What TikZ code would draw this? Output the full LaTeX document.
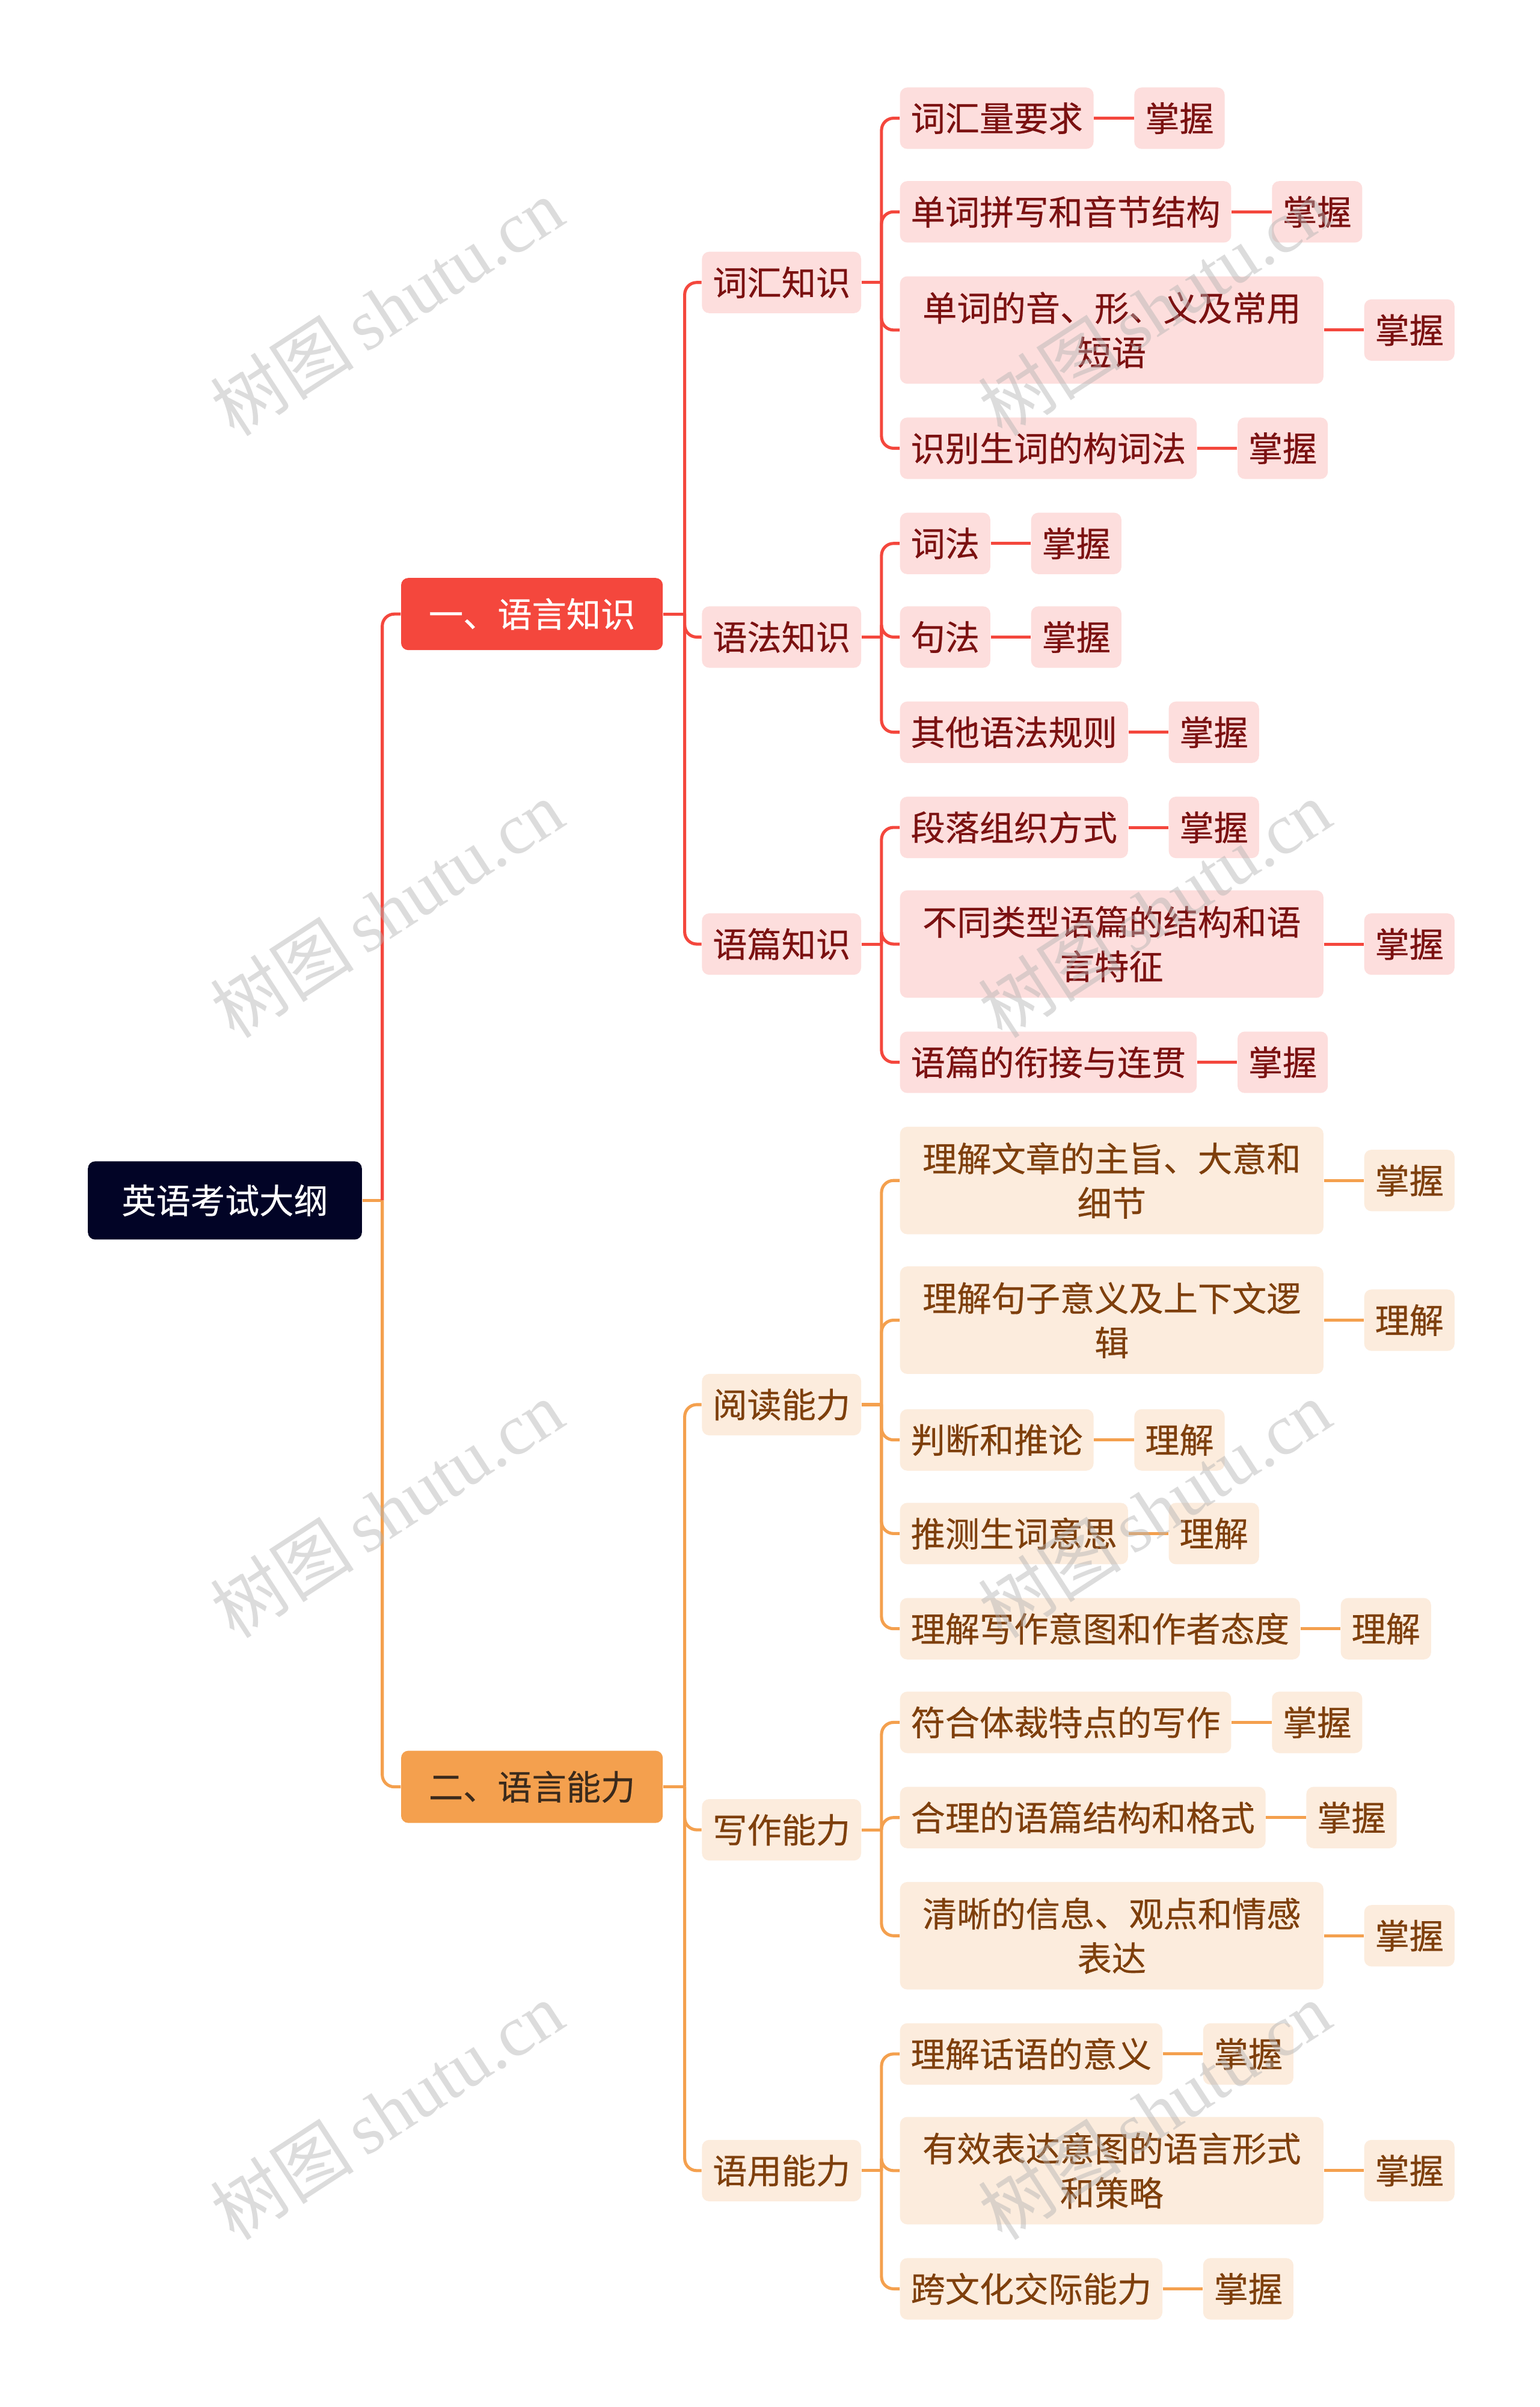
\documentclass[tikz,border=0pt]{standalone}
\usepackage{fontspec}
\setmainfont{Noto Sans CJK SC}[FakeBold=0.4]
\newfontfamily\wmlat{Liberation Serif}
\newfontfamily\wmcjk{Noto Sans CJK SC}
\usetikzlibrary{calc}
\definecolor{rootc}{HTML}{020426}
\definecolor{redm}{HTML}{F4473D}
\definecolor{orgm}{HTML}{F4A04E}
\definecolor{redl}{HTML}{FDDEDD}
\definecolor{orgl}{HTML}{FCECDD}
\definecolor{redt}{HTML}{7B1111}
\definecolor{orgt}{HTML}{7E3F0C}
\definecolor{orgd}{HTML}{3A2A1C}
\begin{document}
\begin{tikzpicture}[x=0.02552cm,y=-0.02552cm,
 base/.style={rounded corners=0.12cm, inner ysep=0pt, font=\fontsize{16.27pt}{21pt}\selectfont, anchor=west},
 rootbox/.style={base, fill=rootc, text=white, inner xsep=0.561cm, minimum height=1.3cm},
 lonebox/.style={base, fill=redm, text=white, inner xsep=0.459cm, minimum height=1.2cm},
 ltwobox/.style={base, fill=orgm, text=orgd, inner xsep=0.459cm, minimum height=1.2cm},
 rbox/.style={base, fill=redl, text=redt, inner xsep=0.1786cm, minimum height=1.021cm},
 obox/.style={base, fill=orgl, text=orgt, inner xsep=0.1786cm, minimum height=1.021cm},
 rwide/.style={rbox, text width=6.68cm, align=center, minimum height=1.786cm},
 owide/.style={obox, text width=6.68cm, align=center, minimum height=1.786cm},
 rline/.style={draw=redm, line width=1.45pt},
 oline/.style={draw=orgm, line width=1.45pt},
 branch/.style={rounded corners=0.2cm},
 wm/.style={rotate=33, text=gray!60, opacity=0.45, font=\fontsize{34pt}{34pt}\selectfont}
]
\fill[white] (0,0) rectangle (1003,1568);
\useasboundingbox (0,0) rectangle (1003,1568);

% root and level 1
\node[rootbox] (root) at (57,782) {英语考试大纲};
\node[lonebox] (L1) at (261,400) {一、语言知识};
\node[ltwobox] (L2) at (261,1164) {二、语言能力};

% level 2
\node[rbox] (A) at (457,184) {词汇知识};
\node[rbox] (B) at (457,415) {语法知识};
\node[rbox] (C) at (457,615) {语篇知识};
\node[obox] (D) at (457,915) {阅读能力};
\node[obox] (E) at (457,1192) {写作能力};
\node[obox] (F) at (457,1414) {语用能力};

% level 3 red
\node[rbox] (A1) at (586,77) {词汇量要求};
\node[rbox] (A2) at (586,138) {单词拼写和音节结构};
\node[rwide] (A3) at (586,215) {单词的音、形、义及常用\\短语};
\node[rbox] (A4) at (586,292) {识别生词的构词法};
\node[rbox] (B1) at (586,354) {词法};
\node[rbox] (B2) at (586,415) {句法};
\node[rbox] (B3) at (586,477) {其他语法规则};
\node[rbox] (C1) at (586,539) {段落组织方式};
\node[rwide] (C2) at (586,615) {不同类型语篇的结构和语\\言特征};
\node[rbox] (C3) at (586,692) {语篇的衔接与连贯};

% level 3 orange
\node[owide] (D1) at (586,769) {理解文章的主旨、大意和\\细节};
\node[owide] (D2) at (586,860) {理解句子意义及上下文逻\\辑};
\node[obox] (D3) at (586,938) {判断和推论};
\node[obox] (D4) at (586,999) {推测生词意思};
\node[obox] (D5) at (586,1061) {理解写作意图和作者态度};
\node[obox] (E1) at (586,1122) {符合体裁特点的写作};
\node[obox] (E2) at (586,1184) {合理的语篇结构和格式};
\node[owide] (E3) at (586,1261) {清晰的信息、观点和情感\\表达};
\node[obox] (F1) at (586,1338) {理解话语的意义};
\node[owide] (F2) at (586,1414) {有效表达意图的语言形式\\和策略};
\node[obox] (F3) at (586,1491) {跨文化交际能力};

% leaves
\foreach \n/\t in {A1/掌握,A2/掌握,A3/掌握,A4/掌握,B1/掌握,B2/掌握,B3/掌握,C1/掌握,C2/掌握,C3/掌握}{
  \node[rbox] (\n m) at ($(\n.east)+(26,0)$) {\t};
  \draw[rline] (\n.east) -- (\n m.west);
}
\foreach \n/\t in {D1/掌握,D2/理解,D3/理解,D4/理解,D5/理解,E1/掌握,E2/掌握,E3/掌握,F1/掌握,F2/掌握,F3/掌握}{
  \node[obox] (\n m) at ($(\n.east)+(26,0)$) {\t};
  \draw[oline] (\n.east) -- (\n m.west);
}

% connectors root
\coordinate (rj) at ($(root.east)+(13,0)$);
\draw[oline] (root.east) -- (rj);
\draw[rline,branch] (rj) |- (L1.west);
\draw[oline,branch] (rj) |- (L2.west);

% level1 -> level2
\coordinate (j1) at ($(L1.east)+(14,0)$);
\draw[rline] (L1.east) -- (j1);
\foreach \c in {A,B,C}{ \draw[rline,branch] (j1) |- (\c.west); }
\coordinate (j2) at ($(L2.east)+(14,0)$);
\draw[oline] (L2.east) -- (j2);
\foreach \c in {D,E,F}{ \draw[oline,branch] (j2) |- (\c.west); }

% level2 -> level3
\coordinate (jA) at ($(A.east)+(13,0)$);
\draw[rline] (A.east) -- (jA);
\foreach \c in {A1,A2,A3,A4}{ \draw[rline,branch] (jA) |- (\c.west); }
\coordinate (jB) at ($(B.east)+(13,0)$);
\draw[rline] (B.east) -- (jB);
\foreach \c in {B1,B2,B3}{ \draw[rline,branch] (jB) |- (\c.west); }
\coordinate (jC) at ($(C.east)+(13,0)$);
\draw[rline] (C.east) -- (jC);
\foreach \c in {C1,C2,C3}{ \draw[rline,branch] (jC) |- (\c.west); }
\coordinate (jD) at ($(D.east)+(13,0)$);
\draw[oline] (D.east) -- (jD);
\foreach \c in {D1,D2,D3,D4,D5}{ \draw[oline,branch] (jD) |- (\c.west); }
\coordinate (jE) at ($(E.east)+(13,0)$);
\draw[oline] (E.east) -- (jE);
\foreach \c in {E1,E2,E3}{ \draw[oline,branch] (jE) |- (\c.west); }
\coordinate (jF) at ($(F.east)+(13,0)$);
\draw[oline] (F.east) -- (jF);
\foreach \c in {F1,F2,F3}{ \draw[oline,branch] (jF) |- (\c.west); }

% watermarks
\foreach \wx/\wy [count=\i] in {252/200, 752/200, 252/592, 752/592, 252/983, 752/983, 252/1375, 752/1375}{
  \node[wm] (wm\i) at (\wx,\wy) {{\wmcjk 树图}\,{\wmlat shutu.cn}};
}
\end{tikzpicture}
\end{document}
